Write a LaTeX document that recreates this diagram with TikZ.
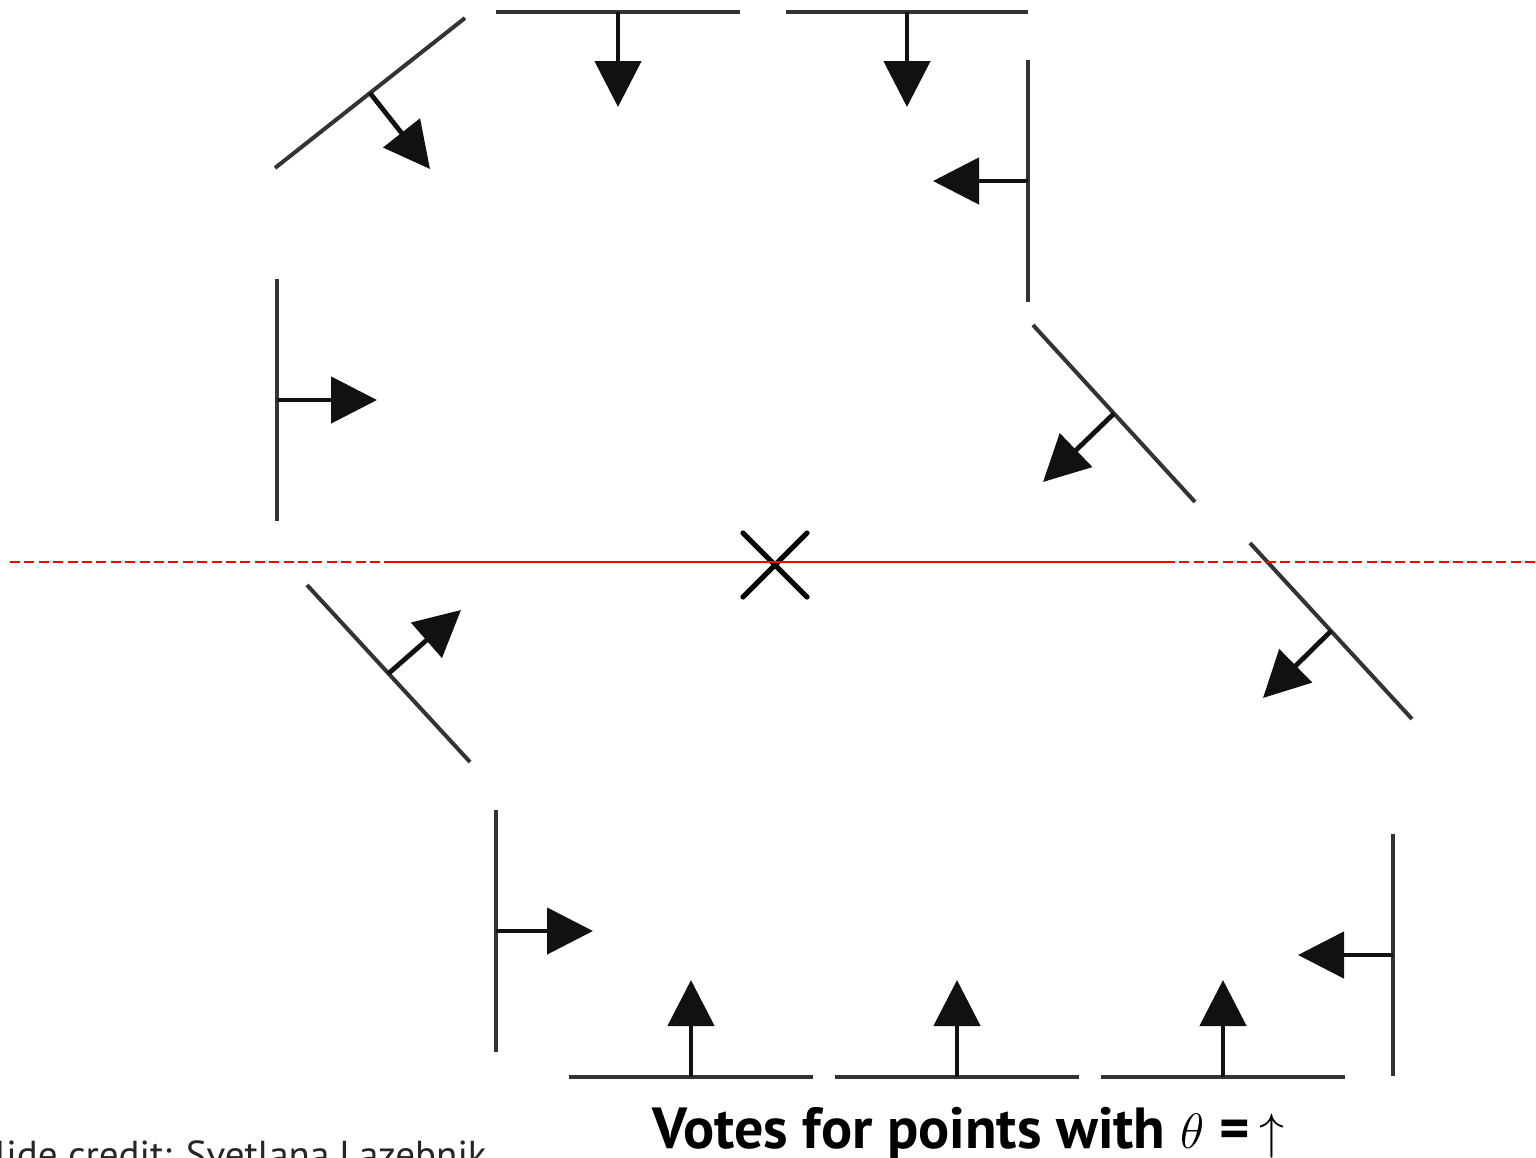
\documentclass[tikz,border=0pt]{standalone}
\usepackage{fontspec}
\setsansfont{PT Sans}
\usepackage{tikz}
\usetikzlibrary{arrows.meta, calc}
\definecolor{edgegray}{HTML}{333333}
\definecolor{voteblack}{HTML}{111111}
\definecolor{axisred}{HTML}{FF0000}
\tikzset{
    edgel/.style={draw=edgegray, line width=2pt},
    vote/.style={-{Triangle[length=23pt, width=23pt]}, draw=voteblack, fill=voteblack, line width=2.4pt},
    axisline/.style={draw=axisred, line width=1pt},
    axisdash/.style={axisline, dash pattern=on 5pt off 2.2pt},
    centermark/.style={draw=black, line width=2.6pt, line cap=round}
}

\begin{document}
\begin{tikzpicture}[x=0.5pt, y=-0.5pt]
    \useasboundingbox (0,0) rectangle (1536,1157);

    % Edge points with their gradient votes
    \foreach \ax/\ay/\bx/\by/\tx/\ty [count=\i] in {
        275/168/465/18/430/169,
        496/12/740/12/618/107,
        786/12/1028/12/907/107,
        1028/60/1028/302/933/181,
        1033/325/1195/502/1043/482,
        277/279/277/521/377/400,
        307/585/470/762/461/610,
        1250/543/1412/719/1263/698,
        496/810/496/1052/593/931,
        1393/834/1393/1076/1298/955,
        569/1077/813/1077/691/980,
        835/1077/1079/1077/957/980,
        1101/1077/1345/1077/1223/980}
    {
        \coordinate (a\i) at (\ax,\ay);
        \coordinate (b\i) at (\bx,\by);
        \coordinate (m\i) at ($(a\i)!0.5!(b\i)$);
        \coordinate (t\i) at (\tx,\ty);
        \draw [edgel] (a\i) -- (b\i);
        \draw [vote] (m\i) -- (t\i);
    }

    % Reference point
    \coordinate (ref) at (775,565);
    \draw [centermark] ($(ref)+(-32,-32)$) -- ($(ref)+(32,32)$);
    \draw [centermark] ($(ref)+(-32,32)$) -- ($(ref)+(32,-32)$);

    % Horizontal through the reference point
    \coordinate (axL) at (10,562);
    \coordinate (solidL) at (385,562);
    \coordinate (solidR) at (1165,562);
    \coordinate (axR) at (1536,562);
    \draw [axisdash] (axL) -- (solidL);
    \draw [axisline] (solidL) -- (solidR);
    \draw [axisdash] (solidR) -- (axR);

    % Texts
    \node [anchor=base west, inner sep=0pt, font=\sffamily\bfseries\fontsize{29}{35}\selectfont] (caption) at (652,1148) {Votes for points with $\theta$ =\,$\uparrow$};
    \node [anchor=base east, inner sep=0pt, text=black!85, font=\sffamily\fontsize{19.5}{22}\selectfont] (credit) at (487,1168) {Slide credit: Svetlana Lazebnik};
\end{tikzpicture}
\end{document}
